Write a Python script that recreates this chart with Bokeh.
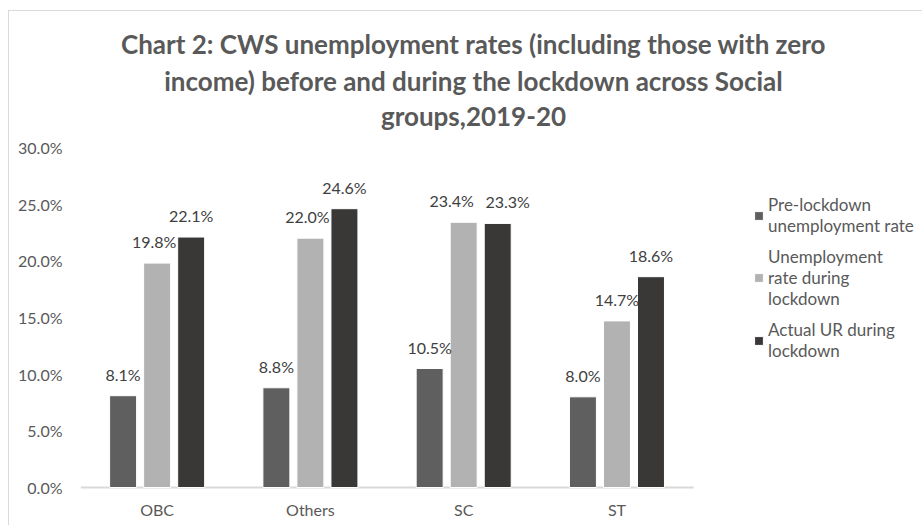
from bokeh.plotting import figure
from bokeh.models import (ColumnDataSource, Range1d, FixedTicker,
                          NumeralTickFormatter, Legend, LegendItem, LabelSet, Label)
from bokeh.transform import dodge
from bokeh.core.properties import value
from bokeh.embed import file_html
from bokeh.resources import INLINE

groups = ["OBC", "Others", "SC", "ST"]
pre_lockdown = [8.1, 8.8, 10.5, 8.0]
during_lockdown = [19.8, 22.0, 23.4, 14.7]
actual_ur = [22.1, 24.6, 23.3, 18.6]
series_names = ["Pre-lockdown\nunemployment rate",
                "Unemployment\nrate during\nlockdown",
                "Actual UR during\nlockdown"]
series_colors = ["#5f5f5f", "#b2b2b2", "#3a3837"]
title_lines = ["Chart 2: CWS unemployment rates (including those with zero",
               "income) before and during the lockdown across Social",
               "groups,2019-20"]
y_ticks = [0, 5, 10, 15, 20, 25, 30]

# label nudges (pixels) to keep neighbouring data labels apart, as in the original
label_nudge = [[0, 0, 0, 0], [-3, -3, -12, 0], [0, 0, 10, 0]]

FONT = "Lato"
n = len(groups)
idx = list(range(n))

# the plotting frame also holds the title and legend area (annotations are clipped to it)
px = 0.30 / 340.0               # value per pixel on the y axis
p = figure(width=914, height=515,
           x_range=Range1d(-0.5, 5.0), y_range=Range1d(-6 * px, 0.30 + 136 * px),
           output_backend="svg", toolbar_location=None,
           min_border_left=71, min_border_right=0,
           min_border_top=0, min_border_bottom=33)
p.title_location = None
p.styles = {"margin-left": "8px", "margin-top": "10px",
            "border-left": "1px solid #d9d9d9", "border-top": "1px solid #d9d9d9"}
p.outline_line_color = None
p.xgrid.visible = False
p.ygrid.visible = False

# category baseline (x axis line) spanning the categories only
p.line(x=[-0.5, n - 0.5], y=[0, 0], line_color="#d9d9d9", line_width=2)

offsets = [-0.222, 0.0, 0.222]
bar_w = 0.176
renderers = []
for vals, off, color, nud in zip([pre_lockdown, during_lockdown, actual_ur], offsets,
                                 series_colors, label_nudge):
    src = ColumnDataSource(dict(xi=idx, v=[x / 100 for x in vals],
                                t=[f"{x:.1f}%" for x in vals], dx=nud))
    r = p.vbar(x=dodge("xi", off), top="v", width=bar_w, source=src,
               fill_color=color, line_color="white", line_width=1)
    renderers.append(r)
    ls = LabelSet(x=dodge("xi", off), y="v", text="t", source=src,
                  x_offset="dx", y_offset=12,
                  text_align="center", text_baseline="bottom",
                  text_font=value(FONT), text_font_size="16px", text_color="#404040")
    p.add_layout(ls)

p.yaxis.ticker = FixedTicker(ticks=[t / 100 for t in y_ticks])
p.yaxis.formatter = NumeralTickFormatter(format="0.0%")
p.yaxis.axis_line_color = None
p.yaxis.major_tick_line_color = None
p.yaxis.minor_tick_line_color = None
p.yaxis.major_label_standoff = 12
p.yaxis.major_label_text_font = FONT
p.yaxis.major_label_text_font_size = "16px"
p.yaxis.major_label_text_color = "#595959"

p.xaxis.ticker = FixedTicker(ticks=idx)
p.xaxis.major_label_overrides = {i: g for i, g in zip(idx, groups)}
p.xaxis.axis_line_color = None
p.xaxis.major_tick_line_color = None
p.xaxis.minor_tick_line_color = None
p.xaxis.major_label_standoff = 0
p.xaxis.major_label_text_font = FONT
p.xaxis.major_label_text_font_size = "16px"
p.xaxis.major_label_text_color = "#595959"

legend = Legend(items=[LegendItem(label=s, renderers=[r]) for s, r in zip(series_names, renderers)],
                location=(673, 132), orientation="vertical",
                glyph_width=11, glyph_height=11, label_standoff=4, spacing=10,
                padding=0, margin=0, border_line_color=None, background_fill_alpha=0,
                label_text_font=FONT, label_text_font_size="17px",
                label_text_color="#595959")
p.add_layout(legend)

for line, ty in zip(title_lines, [450, 413, 378]):
    p.add_layout(Label(x=393, y=ty, x_units="screen", y_units="screen", text=line,
                       text_align="center", text_baseline="middle",
                       text_font=FONT, text_font_style="bold",
                       text_font_size="26px", text_color="#595959"))

open("out.html", "w").write(file_html(p, INLINE))
